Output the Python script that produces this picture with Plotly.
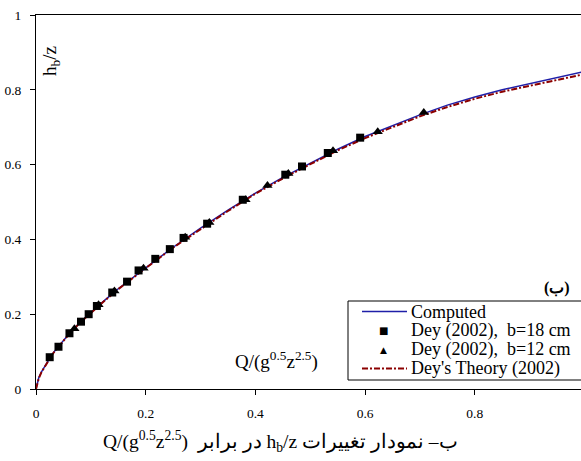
import plotly.graph_objects as go

# ---------------- data ----------------
curve_x = [0, 0.005, 0.01, 0.02, 0.03, 0.04, 0.06, 0.08, 0.1, 0.125, 0.15, 0.175, 0.2,
           0.25, 0.3, 0.35, 0.4, 0.45, 0.5, 0.55, 0.6, 0.65, 0.7, 0.75, 0.8, 0.85,
           0.9, 0.95, 1.0]
computed_y = [0, 0.03, 0.046, 0.072, 0.094, 0.112, 0.147, 0.178, 0.205, 0.237, 0.268,
              0.297, 0.324, 0.379, 0.43, 0.478, 0.524, 0.566, 0.604, 0.641, 0.675,
              0.705, 0.733, 0.759, 0.781, 0.8, 0.817, 0.833, 0.849]
theory_y = [0, 0.028, 0.045, 0.071, 0.093, 0.111, 0.146, 0.177, 0.204, 0.236, 0.267,
            0.296, 0.323, 0.378, 0.428, 0.476, 0.522, 0.563, 0.601, 0.638, 0.671,
            0.701, 0.729, 0.754, 0.776, 0.795, 0.811, 0.827, 0.842]

b18_x = [0.025, 0.041, 0.061, 0.082, 0.096, 0.111, 0.139, 0.166, 0.187, 0.2175, 0.244,
         0.269, 0.312, 0.377, 0.4545, 0.485, 0.532, 0.591]
b18_y = [0.085, 0.113, 0.149, 0.180, 0.200, 0.222, 0.258, 0.287, 0.317, 0.348, 0.374,
         0.404, 0.442, 0.506, 0.573, 0.595, 0.631, 0.672]

b12_x = [0.070, 0.114, 0.143, 0.196, 0.272, 0.316, 0.382, 0.422, 0.460, 0.5415, 0.623, 0.707]
b12_y = [0.161, 0.225, 0.262, 0.323, 0.406, 0.445, 0.506, 0.544, 0.576, 0.637, 0.688, 0.739]

x_ticks = [0, 0.2, 0.4, 0.6, 0.8]
y_ticks = [0, 0.2, 0.4, 0.6, 0.8, 1]
y_tick_text = ["0", "0.2", "0.4", "0.6", "0.8", "1"]

series_names = ["Computed", "Dey (2002),\u00a0\u00a0b=18 cm", "Dey (2002),\u00a0\u00a0b=12 cm",
                "Dey's Theory (2002)"]

# ---------------- styling ----------------
W, H = 581, 461
ML, MR, MT, MB = 36, 0, 15, 72
PW, PH = W - ML - MR, H - MT - MB
SERIF = "Liberation Serif"
BLUE = "#1f1fa8"
RED = "#8b0000"


def px(xp):
    return (xp - ML) / PW


def py(yp):
    return (MT + PH - yp) / PH


fig = go.Figure()
fig.add_trace(go.Scatter(x=curve_x, y=computed_y, mode="lines", name=series_names[0],
                         line=dict(color=BLUE, width=1.5), showlegend=False))
fig.add_trace(go.Scatter(x=curve_x, y=theory_y, mode="lines", name=series_names[3],
                         line=dict(color=RED, width=2, dash="6px,2px,2px,2px"),
                         showlegend=False))
fig.add_trace(go.Scatter(x=b18_x, y=b18_y, mode="markers", name=series_names[1],
                         marker=dict(symbol="square", size=8, color="black"),
                         showlegend=False))
fig.add_trace(go.Scatter(x=b12_x, y=b12_y, mode="markers", name=series_names[2],
                         marker=dict(symbol="triangle-up", size=9, color="black"),
                         showlegend=False))

fig.update_layout(
    width=W, height=H, autosize=False,
    margin=dict(l=ML, r=MR, t=MT, b=MB, pad=0),
    paper_bgcolor="white", plot_bgcolor="white",
    font=dict(family=SERIF, color="black", size=13),
    xaxis=dict(range=[0, PW / 548.5], tickvals=x_ticks, ticktext=[str(v) for v in x_ticks],
               showgrid=False, zeroline=False, showline=True, linecolor="black",
               linewidth=1, mirror=True, ticks="outside", ticklen=5, tickcolor="black",
               tickfont=dict(family=SERIF, size=13.5, color="black"), ticklabelstandoff=7),
    yaxis=dict(range=[0, 1], tickvals=y_ticks, ticktext=y_tick_text,
               showgrid=False, zeroline=False, showline=True, linecolor="black",
               linewidth=1, ticks="outside", ticklen=5, tickcolor="black",
               tickfont=dict(family=SERIF, size=13.5, color="black"), ticklabelstandoff=6),
)

ann = []
# y-axis title inside the plot
ann.append(dict(x=px(51), y=py(61), xref="paper", yref="paper", text="h<sub>b</sub>/z",
                textangle=-90, showarrow=False, font=dict(family=SERIF, size=19),
                xanchor="center", yanchor="middle"))
# x-axis label inside the plot
ann.append(dict(x=px(276), y=py(360), xref="paper", yref="paper",
                text="Q/(g<sup>0.5</sup>z<sup>2.5</sup>)", showarrow=False,
                font=dict(family=SERIF, size=19), xanchor="center", yanchor="middle"))
# panel letter
ann.append(dict(x=px(557), y=py(288), xref="paper", yref="paper", text="<b>(ب)</b>",
                showarrow=False, font=dict(family=SERIF, size=16), xanchor="center",
                yanchor="middle"))
# caption
ann.append(dict(x=px(280), y=py(442), xref="paper", yref="paper",
                text="Q/(g<sup>0.5</sup>z<sup>2.5</sup>)\u00a0 در برابر h<sub>b</sub>/z ب– نمودار تغییرات",
                showarrow=False, font=dict(family=SERIF, size=19.5), xanchor="center",
                yanchor="middle"))

# manual legend (tight row spacing as in the reference)
rows = [311.5, 330.5, 349.5, 368.5]
shapes = [dict(type="rect", xref="paper", yref="paper", x0=px(348), x1=px(590),
               y0=py(380), y1=py(301), line=dict(color="black", width=1),
               fillcolor="white", layer="above")]
shapes.append(dict(type="line", xref="paper", yref="paper", x0=px(362), x1=px(407),
                   y0=py(rows[0]), y1=py(rows[0]), line=dict(color=BLUE, width=1.5),
                   layer="above"))
shapes.append(dict(type="line", xref="paper", yref="paper", x0=px(362), x1=px(407),
                   y0=py(rows[3]), y1=py(rows[3]),
                   line=dict(color=RED, width=2, dash="6px,2px,2px,2px"), layer="above"))
ann.append(dict(x=px(383), y=py(rows[1]), xref="paper", yref="paper", text="■",
                showarrow=False, font=dict(family="DejaVu Sans", size=10),
                xanchor="center", yanchor="middle"))
ann.append(dict(x=px(383), y=py(rows[2]), xref="paper", yref="paper", text="▲",
                showarrow=False, font=dict(family="DejaVu Sans", size=9),
                xanchor="center", yanchor="middle"))
for r, name in zip(rows, series_names):
    ann.append(dict(x=px(410), y=py(r), xref="paper", yref="paper", text=name,
                    showarrow=False, font=dict(family=SERIF, size=18), xanchor="left",
                    yanchor="middle", borderpad=0))

fig.update_layout(annotations=ann, shapes=shapes)
fig.write_html("out.html")
